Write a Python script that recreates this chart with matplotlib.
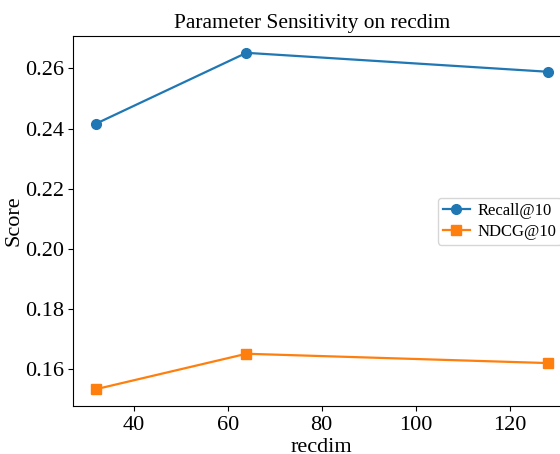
import matplotlib
matplotlib.use('Agg')
import matplotlib.pyplot as plt

plt.rcParams['font.family'] = ['Liberation Serif', 'DejaVu Serif']

# data
recdim = [32, 64, 128]
recall = [0.2416, 0.2652, 0.2589]
ndcg = [0.1532, 0.1650, 0.1619]

fig = plt.figure(figsize=(5.6, 4.54), dpi=100)
# axes run a bit past the right edge, as in the reference crop
ax = fig.add_axes([0.131, 0.1057, 0.887, 0.815])

ax.plot(recdim, recall, marker='o', color='#1f77b4', lw=1.6, ms=7, label='Recall@10')
ax.plot(recdim, ndcg, marker='s', color='#ff7f0e', lw=1.6, ms=7, label='NDCG@10')

ax.set_title('Parameter Sensitivity on recdim', fontsize=15.4, x=0.48)
ax.set_xlabel('recdim', fontsize=16, labelpad=2)
ax.set_ylabel('Score', fontsize=16, labelpad=1)
ax.tick_params(labelsize=16)
ax.set_yticks([0.16, 0.18, 0.20, 0.22, 0.24, 0.26])
ax.legend(loc='center right', fontsize=12, handlelength=1.6, handletextpad=0.5,
          borderpad=0.3, labelspacing=0.3)

fig.savefig('out.png', dpi=100)
